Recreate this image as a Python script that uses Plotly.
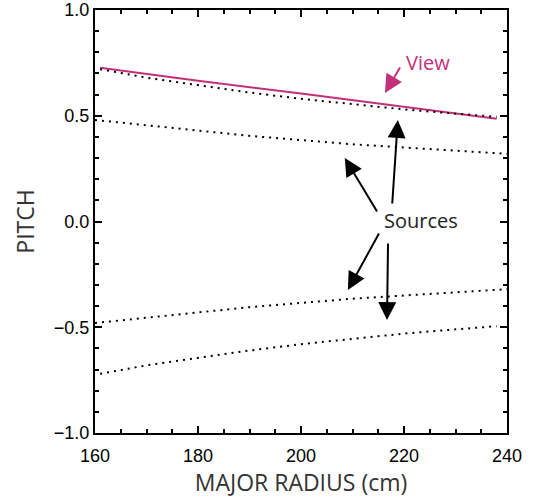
import plotly.graph_objects as go

# ---- data ----
radius_view = [161, 180, 200, 220, 238]
pitch_view = [0.727, 0.665, 0.605, 0.543, 0.486]

radius_src_a = [161, 170, 180, 190, 200, 210, 220, 230, 238]
pitch_src_a = [0.72, 0.68, 0.645, 0.61, 0.58, 0.555, 0.53, 0.51, 0.495]

radius_src_b = [160, 170, 180, 190, 200, 210, 220, 230, 240]
pitch_src_b = [0.48, 0.455, 0.43, 0.405, 0.385, 0.365, 0.35, 0.335, 0.32]

x_ticks = [160, 180, 200, 220, 240]
y_ticks = [-1.0, -0.5, 0.0, 0.5, 1.0]
y_tick_labels = ["\u22121.0", "\u22120.5", "0.0", "0.5", "1.0"]

MAGENTA = "#C3307A"
DOT = "2px,5px"

fig = go.Figure()
fig.add_trace(go.Scatter(x=radius_view, y=pitch_view, mode="lines",
                         line=dict(color=MAGENTA, width=2), showlegend=False))
for xs, ys in [(radius_src_a, pitch_src_a), (radius_src_b, pitch_src_b),
               (radius_src_b, [-v for v in pitch_src_b]),
               (radius_src_a, [-v for v in pitch_src_a])]:
    fig.add_trace(go.Scatter(x=xs, y=ys, mode="lines",
                             line=dict(color="black", width=2, dash=DOT),
                             showlegend=False))

title_font = dict(family="Open Sans", size=23, color="#333333")
tick_font = dict(family="Liberation Sans", size=18, color="black")

axis_common = dict(showline=True, linecolor="black", linewidth=2, mirror="ticks",
                   ticks="inside", ticklen=7, tickwidth=1.5, tickcolor="black",
                   showgrid=False, zeroline=False, tickfont=tick_font,
                   automargin=False, ticklabeloverflow="allow")

fig.update_xaxes(range=[160, 240], tickvals=x_ticks, ticklabelstandoff=5,
                 minor=dict(dtick=5, ticks="inside", ticklen=4, tickcolor="black", tickwidth=1.5),
                 title=dict(text="MAJOR RADIUS (cm)", font=title_font, standoff=10),
                 **axis_common)
fig.update_yaxes(range=[-1, 1], tickvals=y_ticks, ticktext=y_tick_labels,
                 minor=dict(dtick=0.1, ticks="inside", ticklen=4, tickcolor="black", tickwidth=1.5),
                 title=dict(text="PITCH", font=title_font, standoff=13),
                 **axis_common)

# annotations
fig.add_annotation(x=224.7, y=0.754, text="View", showarrow=False,
                   font=dict(family="Open Sans", size=20, color=MAGENTA))
fig.add_annotation(x=216.3, y=0.608, ax=219.4, ay=0.735, axref="x", ayref="y",
                   text="", showarrow=True, arrowhead=2, arrowsize=1.8,
                   arrowwidth=2, arrowcolor=MAGENTA)
fig.add_annotation(x=223.3, y=0.007, text="Sources", showarrow=False,
                   font=dict(family="Open Sans", size=20, color="#222222"))
src_arrows = [
    ((208.5, 0.300), (214.95, 0.040)),
    ((218.8, 0.480), (217.7, 0.078)),
    ((209.1, -0.324), (215.3, -0.050)),
    ((216.7, -0.466), (216.9, -0.097)),
]
for (hx, hy), (tx, ty) in src_arrows:
    fig.add_annotation(x=hx, y=hy, ax=tx, ay=ty, axref="x", ayref="y",
                       text="", showarrow=True, arrowhead=2, arrowsize=1.8,
                       arrowwidth=2, arrowcolor="black")

fig.update_layout(width=533, height=499, margin=dict(l=95, r=26, t=10, b=66),
                  plot_bgcolor="white", paper_bgcolor="white")

# remove the default 8px page margin so the figure fills the window exactly
fig.write_html("out.html", config={"displayModeBar": False},
               post_script="document.body.style.margin='0';")
